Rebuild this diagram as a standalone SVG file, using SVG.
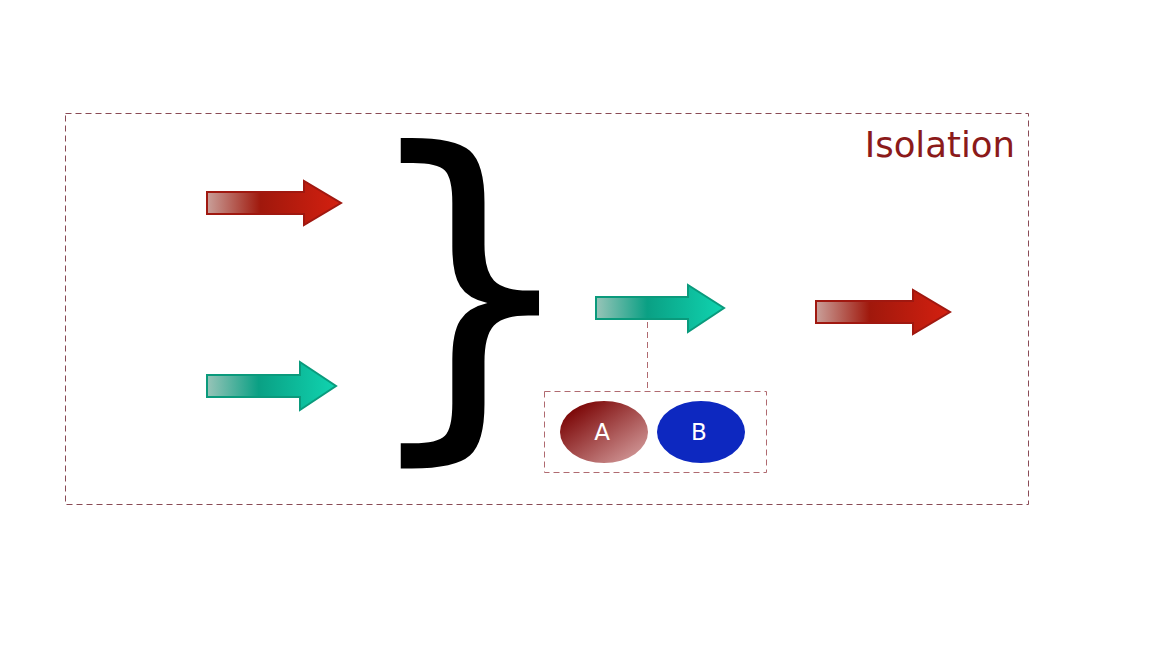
<svg xmlns="http://www.w3.org/2000/svg" width="1165" height="645" viewBox="0 0 1165 645">
<defs>
<linearGradient id="gRed" x1="0" y1="0" x2="1" y2="0">
<stop offset="0" stop-color="#c9a09a"/>
<stop offset="0.4" stop-color="#a0180c"/>
<stop offset="1" stop-color="#d42010"/>
</linearGradient>
<linearGradient id="gTeal" x1="0" y1="0" x2="1" y2="0">
<stop offset="0" stop-color="#98c4b8"/>
<stop offset="0.4" stop-color="#0aa084"/>
<stop offset="1" stop-color="#10d4b0"/>
</linearGradient>
<linearGradient id="gA" x1="0" y1="0" x2="1" y2="1">
<stop offset="0.1" stop-color="#780000"/>
<stop offset="0.9" stop-color="#d09696"/>
</linearGradient>
<style>
.red{fill:url(#gRed);stroke:#a01810;stroke-width:2}
.teal{fill:url(#gTeal);stroke:#0a9a7c;stroke-width:2}
.dash{fill:none;stroke:#b06a70;stroke-width:1;stroke-dasharray:6,4}
.lbl{font-family:"DejaVu Sans",sans-serif;font-size:23px;fill:#ffffff;text-anchor:middle}
</style>
</defs>
<g id="isolation">
<rect x="65.5" y="113.5" width="963" height="391" fill="none" stroke="#8a4a55" stroke-width="1" stroke-dasharray="6,4"/>
<text x="1015" y="157" font-family="DejaVu Sans, sans-serif" font-size="35.5" fill="#8b1a1a" text-anchor="end">Isolation</text>
</g>
<g id="arrow-red-1"><path class="red" d="M207,192 L304,192 L304,181 L341,203 L304,225 L304,214 L207,214 Z"/></g>
<g id="arrow-teal-1"><path class="teal" d="M207,375 L300,375 L300,362 L336,386 L300,410 L300,397 L207,397 Z"/></g>
<g id="brace"><text x="356" y="410" font-family="DejaVu Sans, sans-serif" font-size="358" fill="#000">}</text></g>
<g id="arrow-teal-2"><path class="teal" d="M596,297 L688,297 L688,285 L724,308 L688,332 L688,319 L596,319 Z"/></g>
<g id="arrow-red-2"><path class="red" d="M816,301 L913,301 L913,290 L950,312 L913,334 L913,323 L816,323 Z"/></g>
<g id="connectors"><line class="dash" x1="647.5" y1="322" x2="647.5" y2="391"/></g>
<g id="group-ab">
<rect class="dash" x="544.5" y="391.5" width="222" height="81"/>
</g>
<g id="node-a"><ellipse cx="604" cy="432" rx="44" ry="31" fill="url(#gA)"/><text class="lbl" x="602" y="440">A</text></g>
<g id="node-b"><ellipse cx="701" cy="432" rx="44" ry="31" fill="#0d28c0"/><text class="lbl" x="699" y="440">B</text></g>
</svg>
